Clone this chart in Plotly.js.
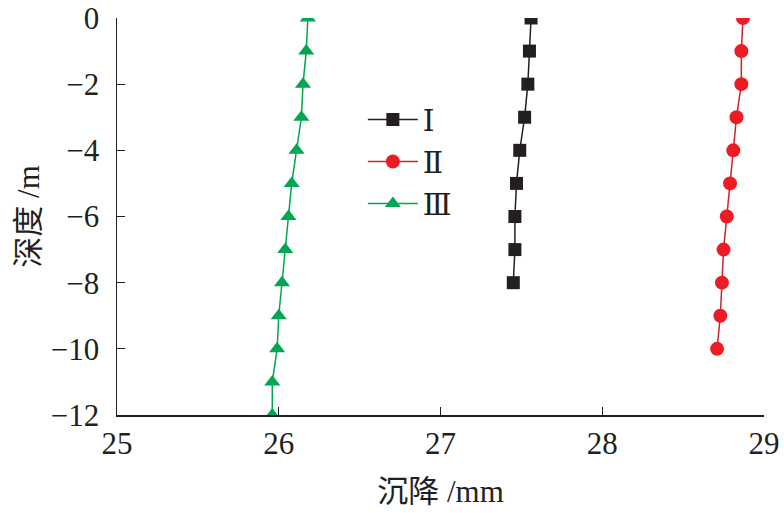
<!DOCTYPE html>
<html><head><meta charset="utf-8">
<script src="https://cdn.plot.ly/plotly-3.0.1.min.js"></script>
<style>html,body{margin:0;padding:0;background:#fff}</style>
</head><body><div id="chart" style="width:784px;height:513px"></div>
<script>
const depth1 = [0,-1,-2,-3,-4,-5,-6,-7,-8];
const settle1 = [27.56,27.55,27.54,27.52,27.49,27.47,27.46,27.46,27.45];
const depth2 = [0,-1,-2,-3,-4,-5,-6,-7,-8,-9,-10];
const settle2 = [28.87,28.86,28.86,28.83,28.81,28.79,28.77,28.75,28.74,28.73,28.71];
const depth3 = [0,-1,-2,-3,-4,-5,-6,-7,-8,-9,-10,-11,-12];
const settle3 = [26.18,26.17,26.15,26.14,26.11,26.08,26.06,26.04,26.02,26.00,25.99,25.96,25.96];
const names = ['Ⅰ','Ⅱ','Ⅲ'];

const font = "Liberation Serif, DejaVu Serif, Noto Sans CJK SC, serif";
const traces = [
  {x: settle1, y: depth1, name: names[0], mode:'lines+markers',
   line:{color:'#231f20', width:1.5}, marker:{symbol:'square', size:13, color:'#231f20'}},
  {x: settle2, y: depth2, name: names[1], mode:'lines+markers',
   line:{color:'#c8252c', width:1.5}, marker:{symbol:'circle', size:14, color:'#ed1c24'}},
  {x: settle3, y: depth3, name: names[2], mode:'lines+markers',
   line:{color:'#00a651', width:1.5}, marker:{symbol:'triangle-up', size:14, color:'#00a651'}}
];
const layout = {
  width:784, height:513,
  margin:{l:117, r:20, t:18, b:98},
  paper_bgcolor:'#fff', plot_bgcolor:'#fff',
  font:{family:font, size:31, color:'#231f20'},
  showlegend:true,
  legend:{x:0.38, y:0.81, xanchor:'left', yanchor:'top', bgcolor:'rgba(0,0,0,0)',
          font:{family:font, size:30, color:'#231f20'}, tracegroupgap:0, itemwidth:50},
  xaxis:{range:[25,29], dtick:1, showgrid:false, zeroline:false, showline:true,
         linecolor:'#231f20', linewidth:1.5, ticks:'inside', ticklen:8, tickcolor:'#231f20',
         tickfont:{family:font, size:31}, ticklabeloverflow:'allow',
         title:{text:'沉降 /mm', font:{family:font, size:31}, standoff:20}},
  yaxis:{range:[-12,0], dtick:2, showgrid:false, zeroline:false, showline:true,
         linecolor:'#231f20', linewidth:1.5, ticks:'inside', ticklen:8, tickcolor:'#231f20',
         tickfont:{family:font, size:31}, tickformat:'d', ticklabeloverflow:'allow',
         ticklabelstandoff:10,
         title:{text:'深度 /m', font:{family:font, size:31}, standoff:2}}
};
Plotly.newPlot('chart', traces, layout, {displayModeBar:false, staticPlot:true});
</script></body></html>
